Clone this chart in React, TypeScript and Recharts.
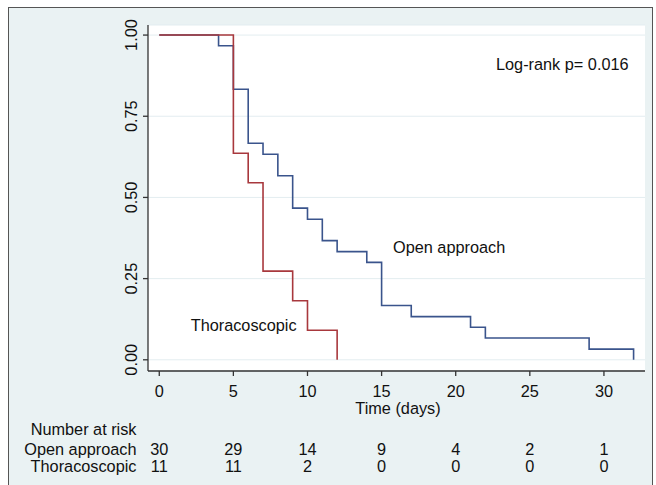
import React from 'react';
import { LineChart, Line, XAxis, YAxis, CartesianGrid } from 'recharts';

// Kaplan-Meier estimates
const openTimes = [0, 4, 5, 6, 7, 8, 9, 10, 11, 12, 14, 15, 17, 21, 22, 29, 32];
const openSurv = [1, 0.967, 0.833, 0.667, 0.633, 0.567, 0.467, 0.433, 0.367, 0.333, 0.3, 0.167, 0.133, 0.1, 0.067, 0.033, 0];
const thoraTimes = [0, 5, 6, 7, 9, 10, 12];
const thoraSurv = [1, 0.636, 0.545, 0.273, 0.182, 0.091, 0];

const xTicks = [0, 5, 10, 15, 20, 25, 30];
const yTicks = [0, 0.25, 0.5, 0.75, 1];
const yTickLabels = ['0.00', '0.25', '0.50', '0.75', '1.00'];
const openAtRisk = [30, 29, 14, 9, 4, 2, 1];
const thoraAtRisk = [11, 11, 2, 0, 0, 0, 0];

const openData = openTimes.map((t, i) => ({ t, s: openSurv[i] }));
const thoraData = thoraTimes.map((t, i) => ({ t, s: thoraSurv[i] }));

const FONT = '"Liberation Sans", Arial, sans-serif';
const FS = 16.3;
const BLUE = '#3a548c';
const RED = '#a8383d';
const BG = '#eaf2f3';

function XTick(props: any) {
  const { x, payload, index } = props;
  return (
    <g fontFamily={FONT} fontSize={FS} fill="#111">
      <text x={x} y={396.5} textAnchor="middle">{payload.value}</text>
      <text x={x} y={455} textAnchor="middle">{openAtRisk[index]}</text>
      <text x={x} y={471.7} textAnchor="middle">{thoraAtRisk[index]}</text>
    </g>
  );
}

function YTick(props: any) {
  const { y, index } = props;
  const bx = 137;
  return (
    <text
      x={bx}
      y={y}
      transform={`rotate(-90, ${bx}, ${y})`}
      textAnchor="middle"
      fontFamily={FONT}
      fontSize={FS}
      fill="#111"
    >
      {yTickLabels[index]}
    </text>
  );
}

export default function App() {
  return (
    <div style={{ position: 'absolute', left: 0, top: 0, width: 656, height: 485, background: '#fff', overflow: 'hidden' }}>
      <div
        style={{
          position: 'absolute',
          left: 8,
          top: 7,
          width: 645,
          height: 490,
          background: BG,
          borderLeft: '1.5px solid #555',
          borderTop: '1.5px solid #555',
          borderRight: '1.5px solid #555',
          boxSizing: 'border-box',
        }}
      />
      <div style={{ position: 'absolute', left: 0, top: 0 }}>
        <LineChart width={656} height={485} margin={{ top: 25, right: 11, left: 0, bottom: 0 }}>
          <CartesianGrid vertical={false} fill="#fff" stroke="#e3edf0" strokeWidth={1} />
          <XAxis
            type="number"
            dataKey="t"
            domain={[-0.76, 32.77]}
            allowDataOverflow
            ticks={xTicks}
            interval={0}
            height={114}
            tickSize={5}
            axisLine={{ stroke: '#333', strokeWidth: 1.3 }}
            tickLine={{ stroke: '#333', strokeWidth: 1.3 }}
            tick={<XTick />}
          />
          <YAxis
            type="number"
            dataKey="s"
            domain={[-0.0345, 1.031]}
            allowDataOverflow
            ticks={yTicks}
            interval={0}
            width={148}
            tickSize={5}
            axisLine={{ stroke: '#333', strokeWidth: 1.3 }}
            tickLine={{ stroke: '#333', strokeWidth: 1.3 }}
            tick={<YTick />}
          />
          <Line
            data={openData}
            dataKey="s"
            type="stepAfter"
            stroke={BLUE}
            strokeWidth={1.6}
            dot={false}
            activeDot={false}
            isAnimationActive={false}
          />
          <Line
            data={thoraData}
            dataKey="s"
            type="stepAfter"
            stroke={RED}
            strokeWidth={1.6}
            dot={false}
            activeDot={false}
            isAnimationActive={false}
          />
        </LineChart>
      </div>
      <svg
        width={656}
        height={485}
        style={{ position: 'absolute', left: 0, top: 0, pointerEvents: 'none' }}
        fontFamily={FONT}
        fontSize={FS}
        fill="#111"
      >
        <text x={496} y={70}>Log-rank p= 0.016</text>
        <text x={393} y={252.5}>Open approach</text>
        <text x={190.7} y={330.5}>Thoracoscopic</text>
        <text x={398} y={413.5} textAnchor="middle">Time (days)</text>
        <text x={136.5} y={435} textAnchor="end">Number at risk</text>
        <text x={136.5} y={455} textAnchor="end">Open approach</text>
        <text x={136.5} y={471.7} textAnchor="end">Thoracoscopic</text>
      </svg>
    </div>
  );
}
